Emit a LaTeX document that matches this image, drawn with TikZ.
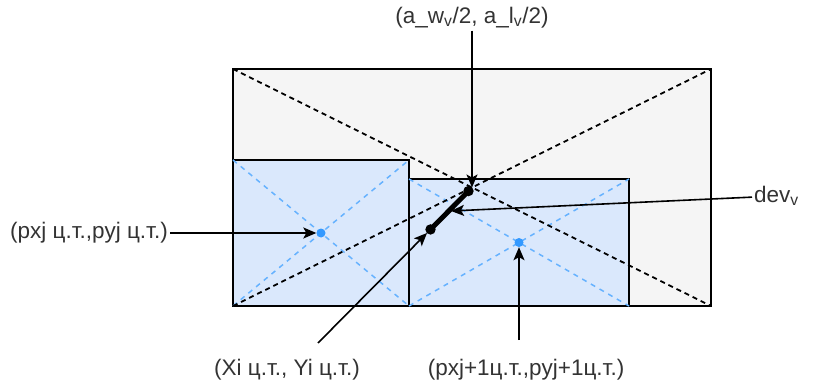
\documentclass[tikz,border=0pt]{standalone}
\usepackage{fontspec}
\setmainfont{Liberation Sans}
\usetikzlibrary{arrows.meta,positioning}
\definecolor{boxGray}{HTML}{F5F5F5}
\definecolor{boxBlue}{HTML}{DAE8FC}
\definecolor{diagBlue}{HTML}{66B2FF}
\definecolor{dotBlue}{HTML}{3399FF}
\definecolor{labelGray}{HTML}{333333}

\begin{document}
\begin{tikzpicture}[x=1pt,y=-1pt,
  area/.style={draw,line width=1.7pt,outer sep=0pt,inner sep=0pt,anchor=north west},
  blackdiag/.style={line width=1.8pt,dash pattern=on 5pt off 4pt},
  bluediag/.style={diagBlue,line width=1.5pt,dash pattern=on 5pt off 5pt},
  lbl/.style={text=labelGray,font=\fontsize{22.5}{26}\selectfont,inner sep=2pt},
  pointer/.style={-{Stealth[length=13pt,width=11pt,inset=3pt]},line width=1.6pt},
  cdot/.style={circle,fill=dotBlue,inner sep=0pt,minimum size=9pt}]
  \useasboundingbox (0,0) rectangle (817,385);
  % sheet and the two parts
  \node[area,fill=boxGray,minimum width=478pt,minimum height=237pt] (sheet) at (233,69) {};
  \node[area,fill=boxBlue,minimum width=176pt,minimum height=146pt] (partA) at (233,160) {};
  \node[area,fill=boxBlue,minimum width=220pt,minimum height=127pt] (partB) at (409,179) {};
  \draw[bluediag] (partA.north west) -- (partA.south east);
  \draw[bluediag] (partA.south west) -- (partA.north east);
  \draw[bluediag] (partB.north west) -- (partB.south east);
  \draw[bluediag] (partB.south west) -- (partB.north east);
  \draw[blackdiag] (sheet.north west) -- (sheet.south east);
  \draw[blackdiag] (sheet.south west) -- (sheet.north east);
  \node[cdot] (cgA) at (partA.center) {};
  \node[cdot] (cgB) at (partB.center) {};
  % deviation
  \coordinate (half) at (sheet.center);
  \coordinate (cg) at (427,233);
  \coordinate (devmid) at (451,211);
  \draw[line width=5pt,{Circle[length=10pt]}-{Circle[length=10pt]}] (cg) -- (half);
  % labels
  \node[lbl] (halfLbl) at (472,18) {(a\_w\textsubscript{v}/2, a\_l\textsubscript{v}/2)};
  \node[lbl,anchor=west] (devLbl) at (752,196) {dev\textsubscript{v}};
  \node[lbl,anchor=east] (cgALbl) at (170,233) {(pxj ц.т.,pyj ц.т.)};
  \node[lbl] (cgLbl) at (287,370) {(Xi ц.т., Yi ц.т.)};
  \node[lbl] (cgBLbl) at (526,370) {(pxj+1ц.т.,pyj+1ц.т.)};
  \coordinate (cgStart) at (318,343);
  \coordinate (cgBStart) at (519,340);
  \draw[pointer] (halfLbl) -- (half);
  \draw[pointer] (devLbl) -- (devmid);
  \draw[pointer] (cgALbl) -- (cgA);
  \draw[pointer] (cgStart) -- (cg);
  \draw[pointer] (cgBStart) -- (cgB);
\end{tikzpicture}
\end{document}
